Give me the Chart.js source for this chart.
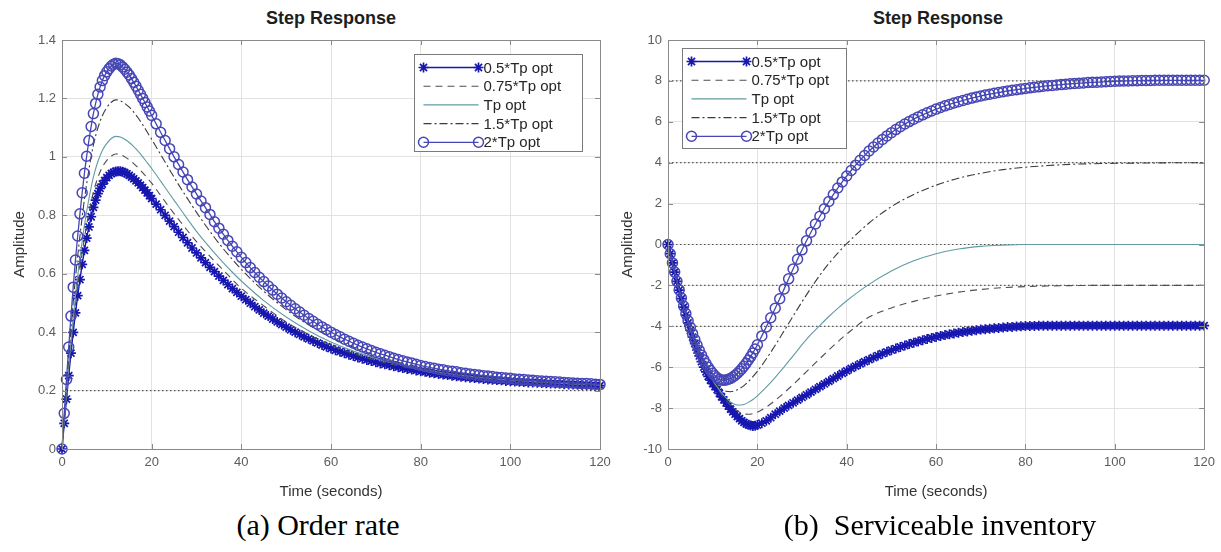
<!DOCTYPE html>
<html>
<head>
<meta charset="utf-8">
<script src="https://cdn.jsdelivr.net/npm/chart.js@4.4.0/dist/chart.umd.min.js"></script>
<style>
  body { margin: 0; width: 1221px; height: 552px; background: #fff; position: relative; overflow: hidden; }
  canvas { position: absolute; top: 0; }
  .title { position: absolute; top: 7px; width: 200px; text-align: center; font: bold 18px "Liberation Sans", Arial, sans-serif; line-height: 22px; color: #1e1e1e; }
  .caption { position: absolute; top: 507px; text-align: center; font: 30px "Liberation Serif", "Times New Roman", serif; line-height: 36px; color: #000; white-space: pre; }
</style>
</head>
<body>
<div class="title" style="left:231px">Step Response</div>
<div class="title" style="left:838px">Step Response</div>
<canvas id="orderChart" width="620" height="505" style="left:0"></canvas>
<canvas id="invChart" width="611" height="505" style="left:610px"></canvas>
<div class="caption" style="left:168px;width:300px">(a) Order rate</div>
<div class="caption" style="left:740px;width:400px">(b)  Serviceable inventory</div>

<script>
"use strict";

// time grids (seconds)
const timeMarker = [
  0, 0.5, 1, 1.5, 2, 2.5, 3, 3.5, 4, 4.5, 5, 5.5, 6, 6.5, 7, 7.5, 8, 8.5, 9, 9.5, 10,
  10.5, 11, 11.5, 12, 12.5, 13, 13.5, 14, 14.5, 15, 15.5, 16, 16.5, 17, 17.5, 18, 18.5, 19, 19.5, 20,
  21, 22, 23, 24, 25, 26, 27, 28, 29, 30, 31, 32, 33, 34, 35, 36, 37, 38, 39, 40,
  41, 42, 43, 44, 45, 46, 47, 48, 49, 50, 51, 52, 53, 54, 55, 56, 57, 58, 59, 60,
  61, 62, 63, 64, 65, 66, 67, 68, 69, 70, 71, 72, 73, 74, 75, 76, 77, 78, 79, 80,
  81, 82, 83, 84, 85, 86, 87, 88, 89, 90, 91, 92, 93, 94, 95, 96, 97, 98, 99, 100,
  101, 102, 103, 104, 105, 106, 107, 108, 109, 110, 111, 112, 113, 114, 115, 116, 117, 118, 119, 120,
];
const timeLine = [
  0, 1, 2, 3, 4, 5, 6, 7, 8, 9, 10, 11, 12, 13, 14, 15, 16, 17, 18, 19, 20,
  22, 24, 26, 28, 30, 32, 34, 36, 38, 40,
  45, 50, 55, 60, 65, 70, 75, 80, 85, 90, 95, 100, 105, 110, 115, 120,
];
const timeTicks = [0, 20, 40, 60, 80, 100, 120];

const seriesLabels = ["0.5*Tp opt", "0.75*Tp opt", "Tp opt", "1.5*Tp opt", "2*Tp opt"];

// (a) order rate
const orderHalf = [
  0, 0.088, 0.171, 0.251, 0.328, 0.399, 0.466, 0.525, 0.58, 0.632, 0.68,
  0.722, 0.76, 0.795, 0.827, 0.852, 0.874, 0.892, 0.907, 0.919, 0.929,
  0.937, 0.943, 0.947, 0.95, 0.951, 0.951, 0.949, 0.946, 0.942, 0.937,
  0.931, 0.925, 0.918, 0.911, 0.903, 0.895, 0.886, 0.877, 0.867, 0.857,
  0.838, 0.819, 0.8, 0.78, 0.761, 0.742, 0.724, 0.706, 0.688, 0.671,
  0.654, 0.638, 0.622, 0.607, 0.592, 0.577, 0.563, 0.549, 0.536, 0.523,
  0.511, 0.499, 0.487, 0.476, 0.465, 0.455, 0.445, 0.435, 0.426, 0.417,
  0.408, 0.4, 0.392, 0.384, 0.377, 0.37, 0.363, 0.356, 0.35, 0.344,
  0.338, 0.333, 0.328, 0.323, 0.318, 0.313, 0.309, 0.305, 0.301, 0.297,
  0.293, 0.29, 0.287, 0.283, 0.28, 0.277, 0.274, 0.272, 0.269, 0.266,
  0.264, 0.261, 0.259, 0.257, 0.255, 0.253, 0.251, 0.249, 0.247, 0.246,
  0.244, 0.243, 0.241, 0.24, 0.238, 0.237, 0.236, 0.235, 0.233, 0.232,
  0.231, 0.23, 0.229, 0.228, 0.228, 0.227, 0.226, 0.225, 0.224, 0.224,
  0.223, 0.222, 0.221, 0.221, 0.22, 0.219, 0.219, 0.218, 0.217, 0.217,
];
const orderThreeQuarter = [
  0, 0.182, 0.348, 0.495, 0.616, 0.722, 0.808, 0.879, 0.929, 0.965, 0.988, 1.003, 1.01,
  1.008, 1.0, 0.99, 0.977, 0.962, 0.946, 0.928, 0.91,
  0.868, 0.826, 0.786, 0.747, 0.71, 0.676, 0.643, 0.612, 0.58, 0.55,
  0.49, 0.435, 0.392, 0.355, 0.327, 0.303, 0.285, 0.27, 0.259, 0.249, 0.241, 0.234, 0.229, 0.225, 0.221, 0.218,
];
const orderOpt = [
  0, 0.193, 0.369, 0.524, 0.653, 0.765, 0.856, 0.931, 0.984, 1.022, 1.046, 1.063, 1.07,
  1.068, 1.06, 1.049, 1.035, 1.019, 1.0, 0.98, 0.96,
  0.917, 0.873, 0.83, 0.787, 0.745, 0.707, 0.671, 0.637, 0.605, 0.575,
  0.508, 0.452, 0.405, 0.366, 0.335, 0.31, 0.29, 0.274, 0.261, 0.251, 0.243, 0.236, 0.231, 0.226, 0.222, 0.219,
];
const orderOneHalf = [
  0, 0.215, 0.412, 0.586, 0.729, 0.854, 0.956, 1.04, 1.099, 1.141, 1.169, 1.187, 1.195,
  1.192, 1.183, 1.17, 1.153, 1.133, 1.11, 1.085, 1.06,
  1.008, 0.956, 0.905, 0.857, 0.81, 0.766, 0.724, 0.685, 0.649, 0.615,
  0.54, 0.477, 0.425, 0.382, 0.348, 0.32, 0.297, 0.279, 0.265, 0.254, 0.245, 0.238, 0.232, 0.227, 0.223, 0.22,
];
const orderDouble = [
  0, 0.122, 0.238, 0.349, 0.455, 0.554, 0.647, 0.729, 0.805, 0.877, 0.944,
  1.002, 1.056, 1.104, 1.148, 1.183, 1.214, 1.239, 1.261, 1.278, 1.291,
  1.302, 1.311, 1.317, 1.32, 1.319, 1.315, 1.308, 1.3, 1.29, 1.28,
  1.268, 1.255, 1.242, 1.228, 1.214, 1.2, 1.186, 1.171, 1.157, 1.142,
  1.113, 1.084, 1.056, 1.028, 1.0, 0.974, 0.948, 0.922, 0.897, 0.873,
  0.849, 0.826, 0.803, 0.778, 0.756, 0.735, 0.714, 0.694, 0.675, 0.656,
  0.638, 0.621, 0.604, 0.588, 0.573, 0.558, 0.544, 0.53, 0.517, 0.504,
  0.492, 0.48, 0.469, 0.458, 0.447, 0.437, 0.427, 0.418, 0.409, 0.4,
  0.392, 0.384, 0.376, 0.369, 0.362, 0.355, 0.349, 0.343, 0.337, 0.331,
  0.326, 0.321, 0.316, 0.311, 0.306, 0.302, 0.298, 0.294, 0.29, 0.286,
  0.282, 0.279, 0.276, 0.273, 0.271, 0.268, 0.266, 0.264, 0.261, 0.259,
  0.257, 0.255, 0.253, 0.251, 0.25, 0.248, 0.246, 0.245, 0.243, 0.242,
  0.24, 0.239, 0.238, 0.236, 0.235, 0.234, 0.233, 0.232, 0.231, 0.23,
  0.229, 0.228, 0.227, 0.226, 0.225, 0.224, 0.224, 0.223, 0.222, 0.221,
];
const orderSteady = [0.2];
const orderTicks = [0, 0.2, 0.4, 0.6, 0.8, 1, 1.2, 1.4];

// (b) serviceable inventory
const invHalf = [
  0, -0.45, -0.9, -1.35, -1.8, -2.23, -2.65, -3.06, -3.45, -3.83, -4.2,
  -4.53, -4.85, -5.16, -5.45, -5.73, -6.0, -6.23, -6.45, -6.63, -6.8,
  -6.95, -7.1, -7.28, -7.45, -7.6, -7.75, -7.9, -8.05, -8.18, -8.3,
  -8.42, -8.52, -8.62, -8.7, -8.77, -8.82, -8.85, -8.87, -8.86, -8.83,
  -8.74, -8.62, -8.47, -8.3, -8.15, -8.0, -7.87, -7.74, -7.61, -7.48,
  -7.35, -7.22, -7.08, -6.95, -6.82, -6.69, -6.56, -6.43, -6.3, -6.18,
  -6.06, -5.95, -5.84, -5.73, -5.63, -5.53, -5.43, -5.34, -5.25, -5.17,
  -5.09, -5.01, -4.94, -4.87, -4.8, -4.74, -4.68, -4.62, -4.57, -4.52,
  -4.47, -4.43, -4.39, -4.35, -4.31, -4.28, -4.25, -4.22, -4.19, -4.16,
  -4.14, -4.12, -4.1, -4.08, -4.06, -4.04, -4.03, -4.01, -4.0, -3.99,
  -3.98, -3.98, -3.97, -3.97, -3.97, -3.97, -3.97, -3.97, -3.97, -3.97,
  -3.97, -3.97, -3.97, -3.97, -3.97, -3.97, -3.97, -3.97, -3.97, -3.97,
  -3.97, -3.97, -3.97, -3.97, -3.97, -3.97, -3.97, -3.97, -3.97, -3.97,
  -3.97, -3.97, -3.97, -3.97, -3.97, -3.97, -3.97, -3.97, -3.97, -3.97,
];
const invThreeQuarter = [
  0, -0.9, -1.8, -2.64, -3.42, -4.14, -4.78, -5.36, -5.87, -6.3, -6.68, -7.02, -7.34,
  -7.62, -7.86, -8.05, -8.2, -8.28, -8.3, -8.27, -8.2,
  -7.95, -7.62, -7.25, -6.85, -6.43, -6.0, -5.58, -5.16, -4.76, -4.38,
  -3.55, -3.1, -2.78, -2.52, -2.33, -2.2, -2.11, -2.06, -2.03, -2.01, -2.0, -2.0, -2.0, -2.0, -2.0, -2.0,
];
const invOpt = [
  0, -0.9, -1.8, -2.64, -3.42, -4.13, -4.76, -5.33, -5.82, -6.24, -6.62, -6.96, -7.26,
  -7.5, -7.7, -7.82, -7.85, -7.82, -7.72, -7.58, -7.4,
  -6.98, -6.5, -5.98, -5.45, -4.9, -4.4, -3.95, -3.52, -3.12, -2.75,
  -1.95, -1.3, -0.8, -0.45, -0.22, -0.09, -0.03, 0, 0, 0, 0, 0, 0, 0, 0, 0,
];
const invOneHalf = [
  0, -0.9, -1.8, -2.63, -3.4, -4.1, -4.73, -5.3, -5.8, -6.22, -6.58, -6.86, -7.06,
  -7.18, -7.2, -7.15, -7.05, -6.9, -6.7, -6.46, -6.2,
  -5.6, -4.93, -4.22, -3.5, -2.8, -2.13, -1.5, -0.93, -0.42, 0.04,
  1.05, 1.85, 2.45, 2.9, 3.24, 3.48, 3.66, 3.78, 3.86, 3.92, 3.95, 3.97, 3.98, 3.99, 4.0, 4.0,
];
const invDouble = [
  0, -0.45, -0.9, -1.35, -1.8, -2.22, -2.62, -3.01, -3.38, -3.73, -4.05,
  -4.36, -4.65, -4.92, -5.18, -5.41, -5.63, -5.82, -6.0, -6.16, -6.3,
  -6.42, -6.52, -6.59, -6.63, -6.64, -6.62, -6.59, -6.55, -6.48, -6.4,
  -6.31, -6.2, -6.08, -5.95, -5.81, -5.65, -5.48, -5.3, -5.11, -4.9,
  -4.47, -4.03, -3.58, -3.12, -2.65, -2.17, -1.68, -1.2, -0.72, -0.26,
  0.18, 0.6, 1.0, 1.38, 1.75, 2.1, 2.44, 2.76, 3.06, 3.35,
  3.62, 3.88, 4.12, 4.35, 4.57, 4.77, 4.96, 5.14, 5.31, 5.47,
  5.62, 5.76, 5.89, 6.01, 6.13, 6.24, 6.34, 6.44, 6.53, 6.62,
  6.7, 6.78, 6.85, 6.92, 6.98, 7.04, 7.1, 7.16, 7.21, 7.26,
  7.31, 7.35, 7.39, 7.43, 7.47, 7.51, 7.54, 7.57, 7.6, 7.63,
  7.66, 7.69, 7.71, 7.74, 7.76, 7.78, 7.8, 7.82, 7.84, 7.86,
  7.87, 7.89, 7.9, 7.92, 7.93, 7.94, 7.95, 7.96, 7.97, 7.98,
  7.99, 8.0, 8.0, 8.01, 8.01, 8.02, 8.02, 8.02, 8.03, 8.03,
  8.03, 8.03, 8.03, 8.03, 8.03, 8.03, 8.03, 8.03, 8.03, 8.03,
];
const invSteady = [8, 4, 0, -2, -4];
const invTicks = [-10, -8, -6, -4, -2, 0, 2, 4, 6, 8, 10];

// look of each series, same order as seriesLabels
const seriesStyles = [
  { color: "#1717b0", dash: [], marker: "star", width: 1.4, markerWidth: 1.7 },
  { color: "#4d4d4d", dash: [7, 5], marker: null, width: 1.1 },
  { color: "#5f9ca3", dash: [], marker: null, width: 1.1 },
  { color: "#3b3b3b", dash: [8, 3, 2, 3], marker: null, width: 1.1 },
  { color: "#4646b6", dash: [], marker: "circle", width: 1.3, markerWidth: 1.5 },
];

Chart.defaults.font.family = "'Liberation Sans', Arial, sans-serif";

function pairs(times, values) {
  return values.map((v, i) => ({ x: times[i], y: v }));
}

function drawMarker(ctx, kind, x, y, r) {
  ctx.beginPath();
  if (kind === "circle") {
    ctx.arc(x, y, r, 0, Math.PI * 2);
  } else {
    for (let k = 0; k < 4; k++) {
      const ang = (k * Math.PI) / 4;
      ctx.moveTo(x - r * Math.cos(ang), y - r * Math.sin(ang));
      ctx.lineTo(x + r * Math.cos(ang), y + r * Math.sin(ang));
    }
  }
  ctx.stroke();
}

// box, inner tick marks and legend like a matlab axes
const matlabAxes = {
  id: "matlabAxes",
  afterDatasetsDraw(chart) {
    const { ctx, chartArea: a, scales } = chart;
    ctx.save();
    ctx.strokeStyle = "#8a8a8a";
    ctx.lineWidth = 1;
    ctx.setLineDash([]);
    ctx.beginPath();
    scales.x.ticks.forEach((t) => {
      const px = Math.round(scales.x.getPixelForValue(t.value)) + 0.5;
      ctx.moveTo(px, a.bottom);
      ctx.lineTo(px, a.bottom - 5);
      ctx.moveTo(px, a.top);
      ctx.lineTo(px, a.top + 5);
    });
    scales.y.ticks.forEach((t) => {
      const py = Math.round(scales.y.getPixelForValue(t.value)) + 0.5;
      ctx.moveTo(a.left, py);
      ctx.lineTo(a.left + 5, py);
      ctx.moveTo(a.right, py);
      ctx.lineTo(a.right - 5, py);
    });
    ctx.stroke();
    ctx.strokeRect(Math.round(a.left) + 0.5, Math.round(a.top) + 0.5, Math.round(a.width), Math.round(a.height));
    ctx.restore();
  },
  afterDraw(chart, args, opts) {
    const { ctx, chartArea: a } = chart;
    const box = opts.legend;
    const x0 = Math.round(a.left + box.left) + 0.5;
    const y0 = Math.round(a.top + box.top) + 0.5;
    ctx.save();
    ctx.fillStyle = "#fff";
    ctx.fillRect(x0, y0, box.width, box.height);
    ctx.strokeStyle = "#7a7a7a";
    ctx.lineWidth = 1;
    ctx.strokeRect(x0, y0, box.width, box.height);
    ctx.font = "15px 'Liberation Sans', Arial, sans-serif";
    ctx.textBaseline = "middle";
    seriesLabels.forEach((label, i) => {
      const st = seriesStyles[i];
      const y = y0 + 13 + i * 18.7;
      ctx.strokeStyle = st.color;
      ctx.lineWidth = st.width;
      ctx.setLineDash(st.dash);
      ctx.beginPath();
      ctx.moveTo(x0 + 9, y);
      ctx.lineTo(x0 + 64, y);
      ctx.stroke();
      ctx.setLineDash([]);
      if (st.marker) {
        ctx.lineWidth = st.markerWidth;
        drawMarker(ctx, st.marker, x0 + 9, y, 5);
        drawMarker(ctx, st.marker, x0 + 64, y, 5);
      }
      ctx.fillStyle = "#262626";
      ctx.fillText(label, x0 + 69, y + 1);
    });
    ctx.restore();
  },
};

function makeChart(canvasId, series, steady, yTicks, axisGeom, legendBox) {
  const datasets = series.map((s, i) => {
    const st = seriesStyles[i];
    return {
      label: seriesLabels[i],
      data: pairs(s.t, s.v),
      borderColor: st.color,
      borderWidth: st.width,
      borderDash: st.dash,
      pointStyle: st.marker || "circle",
      pointRadius: st.marker ? 5 : 0,
      pointBorderColor: st.color,
      pointBorderWidth: st.markerWidth || 1,
      pointBackgroundColor: "rgba(0,0,0,0)",
      cubicInterpolationMode: "monotone",
      clip: 8,
      order: 5 - i,
    };
  });
  steady.forEach((lvl) => {
    datasets.push({
      label: "steady",
      data: pairs([timeTicks[0], timeTicks[timeTicks.length - 1]], [lvl, lvl]),
      borderColor: "#555",
      borderWidth: 1.2,
      borderDash: [1.5, 2.5],
      pointRadius: 0,
      order: 10,
    });
  });

  const tickFont = { size: 13 };
  return new Chart(document.getElementById(canvasId), {
    type: "line",
    data: { datasets },
    options: {
      responsive: false,
      animation: false,
      devicePixelRatio: 1,
      layout: { padding: { left: 0, right: axisGeom.padRight, top: 40, bottom: 0 } },
      plugins: {
        legend: { display: false },
        tooltip: { enabled: false },
        matlabAxes: { legend: legendBox },
      },
      scales: {
        x: {
          type: "linear",
          min: timeTicks[0],
          max: timeTicks[timeTicks.length - 1],
          afterBuildTicks: (scale) => { scale.ticks = timeTicks.map((v) => ({ value: v })); },
          afterFit: (scale) => { scale.height = 56; },
          grid: { color: "#e2e2e2", drawTicks: false },
          border: { display: false },
          ticks: { padding: 6, color: "#5c5c5c", font: tickFont, maxRotation: 0, autoSkip: false, callback: (v) => String(v) },
          title: { display: true, text: "Time (seconds)", color: "#333", font: { size: 15 }, padding: { top: 0, bottom: 4 } },
        },
        y: {
          min: yTicks[0],
          max: yTicks[yTicks.length - 1],
          afterBuildTicks: (scale) => { scale.ticks = yTicks.map((v) => ({ value: v })); },
          afterFit: (scale) => { scale.width = axisGeom.yWidth; },
          grid: { color: "#e2e2e2", drawTicks: false },
          border: { display: false },
          ticks: { padding: 6, color: "#5c5c5c", font: tickFont, autoSkip: false, callback: (v) => String(v) },
          title: { display: true, text: "Amplitude", color: "#333", font: { size: 15 }, padding: { top: axisGeom.titlePad, bottom: 0 } },
        },
      },
    },
    plugins: [matlabAxes],
  });
}

makeChart(
  "orderChart",
  [
    { t: timeMarker, v: orderHalf },
    { t: timeLine, v: orderThreeQuarter },
    { t: timeLine, v: orderOpt },
    { t: timeLine, v: orderOneHalf },
    { t: timeMarker, v: orderDouble },
  ],
  orderSteady,
  orderTicks,
  { padRight: 20, yWidth: 62, titlePad: 11 },
  { left: 352, top: 14, width: 168, height: 97 }
);

makeChart(
  "invChart",
  [
    { t: timeMarker, v: invHalf },
    { t: timeLine, v: invThreeQuarter },
    { t: timeLine, v: invOpt },
    { t: timeLine, v: invOneHalf },
    { t: timeMarker, v: invDouble },
  ],
  invSteady,
  invTicks,
  { padRight: 14, yWidth: 58, titlePad: 9 },
  { left: 14, top: 8, width: 164, height: 100 }
);
</script>
</body>
</html>
